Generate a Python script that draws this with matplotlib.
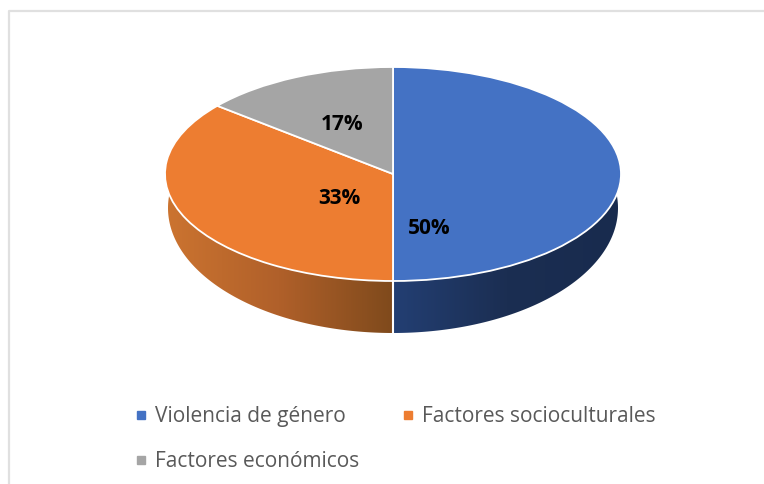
import numpy as np
import matplotlib
matplotlib.use('Agg')
import matplotlib.pyplot as plt
from matplotlib.colors import LinearSegmentedColormap
from matplotlib.lines import Line2D
from matplotlib.patches import Polygon

categorias = ['Violencia de género', 'Factores socioculturales', 'Factores económicos']
etiquetas = ['50%', '33%', '17%']
# share of the ellipse each slice really takes in the picture (3D view distorts it)
areas = [50, 36, 14]
colores = ['#4472C4', '#ED7D31', '#A5A5A5']

W, H = 764, 484
# top ellipse in pixels
cx, cy, rx, ry, prof = 393, 174, 228, 107, 52
# lower rim is a different ellipse because of the perspective
rx2, ry2, cy2 = 225, 125, 208

fig = plt.figure(figsize=(W / 100, H / 100), dpi=100)

# pie axes: one data unit in x = rx px, in y = ry px
ax = fig.add_axes([(cx - rx) / W, 1 - (cy + ry + prof) / H, 2 * rx / W, (2 * ry + prof) / H])
ax.pie(areas, colors=colores, startangle=90, counterclock=False,
       wedgeprops={'edgecolor': 'white', 'linewidth': 1.3, 'zorder': 3})
ax.set_aspect('auto')
y_fondo = -1 - prof / ry

# side wall, gradient clipped to the lower rim
def pared(t0, t1, tonos, x0, x1):
    t = np.radians(np.linspace(t0, t1, 120))
    xs = np.cos(t) * rx2 / rx
    ys = (cy - cy2) / ry + np.sin(t) * ry2 / ry
    puntos = np.column_stack([xs, ys])
    puntos = np.vstack([puntos, [[0, 0]]])
    forma = Polygon(puntos, closed=True, transform=ax.transData,
                    facecolor='none', edgecolor='none')
    ax.add_patch(forma)
    cmap = LinearSegmentedColormap.from_list('pared', tonos)
    im = ax.imshow(np.linspace(0, 1, 256).reshape(1, -1), cmap=cmap, aspect='auto',
                   extent=[x0, x1, y_fondo, 1], zorder=1, interpolation='bilinear')
    im.set_clip_path(forma)

pared(165, 270, ['#CC7430', '#B0602A', '#7F4A1C'], -1, 0)
pared(270, 375, ['#233F73', '#1B2E52', '#182B4E'], 0, 1)
ax.plot([0, 0], [-1, y_fondo], color='white', lw=1.5, zorder=4, solid_capstyle='butt')
ax.set_xlim(-1, 1)
ax.set_ylim(y_fondo, 1)
ax.axis('off')

# overlay in pixel coordinates for frame, labels and legend
capa = fig.add_axes([0, 0, 1, 1])
capa.set_xlim(0, W)
capa.set_ylim(H, 0)
capa.axis('off')
capa.plot([9, 9, W], [H, 11, 11], color='#E0E0E0', lw=1.6)

pos_etiquetas = [(429, 229), (339, 198), (342, 125)]
for txt, (x, y) in zip(etiquetas, pos_etiquetas):
    capa.text(x, y, txt, ha='center', va='center', fontsize=15, fontweight='bold',
              family='Open Sans', color='black')

orden = [0, 2, 1]
marcas = [Line2D([], [], ls='none', marker='s', ms=6, color=colores[i]) for i in orden]
fig.legend(marcas, [categorias[i] for i in orden], ncol=2, frameon=False,
           loc='lower left', bbox_to_anchor=(135 / W, 1 - 472 / H),
           bbox_transform=fig.transFigure, borderaxespad=0, borderpad=0,
           handlelength=0.6, handletextpad=0.35, columnspacing=2.05, labelspacing=1.13,
           prop={'family': 'Open Sans', 'size': 15}, labelcolor='#595959')

fig.savefig('out.png', dpi=100)
